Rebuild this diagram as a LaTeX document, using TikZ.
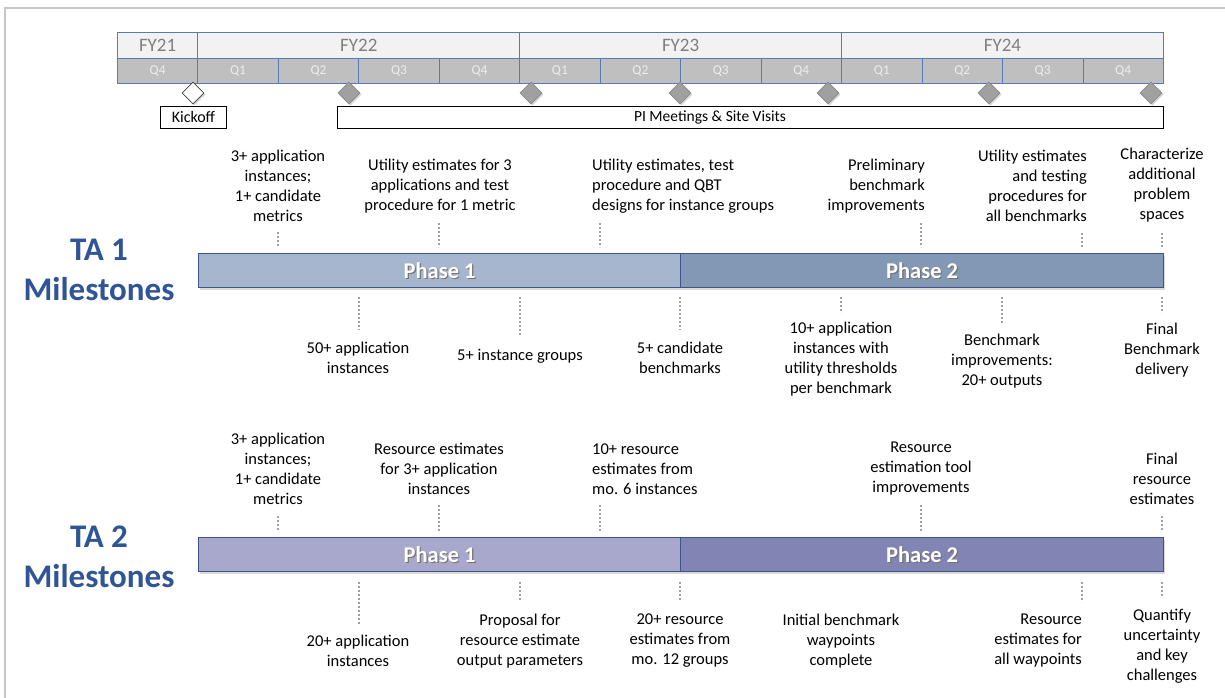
\documentclass[tikz,border=0pt]{standalone}
\usepackage{fontspec}
\setmainfont{Carlito}
\usetikzlibrary{shapes.geometric,shadows}
\definecolor{hdrline}{HTML}{5B7BB0}
\definecolor{fyfill}{HTML}{F2F2F2}
\definecolor{qfill}{HTML}{BFBFBF}
\definecolor{fytext}{HTML}{7F7F7F}
\definecolor{qtext}{HTML}{EDEDED}
\definecolor{dia}{HTML}{A0A0A0}
\definecolor{diaedge}{HTML}{8A8A8A}
\definecolor{taone}{HTML}{A6B6CE}
\definecolor{tatwo}{HTML}{8398B5}
\definecolor{tbone}{HTML}{A8A8CC}
\definecolor{tbtwo}{HTML}{8284B3}
\definecolor{barline}{HTML}{3C5584}
\definecolor{talbl}{HTML}{2F5597}
\definecolor{dotc}{HTML}{A0A0A0}
\definecolor{framec}{HTML}{C6C6C6}
\begin{document}
\begin{tikzpicture}[x=1pt,y=-1pt,
  cell/.style={draw=hdrline, line width=0.8pt, inner sep=0pt, anchor=north west},
  fycell/.style={cell, fill=fyfill, minimum height=26pt, font=\fontsize{19}{21}\selectfont, text=fytext},
  qcell/.style={cell, fill=qfill, minimum height=25pt, minimum width=80.46pt, font=\fontsize{13.5}{15}\selectfont, text=qtext},
  milestone/.style={diamond, minimum width=22pt, minimum height=22pt, inner sep=0pt, fill=dia, draw=diaedge, line width=0.6pt,
     drop shadow={opacity=0.35, shadow xshift=1.5pt, shadow yshift=-1.5pt}},
  kickdia/.style={milestone, fill=white, draw=black!75},
  evbox/.style={draw=black, line width=0.8pt, inner sep=0pt, anchor=north west, minimum height=22pt},
  evtext/.style={inner sep=0pt, font=\fontsize{16}{18}\selectfont},
  bar/.style={draw=barline, line width=1.2pt, minimum height=34pt, inner sep=0pt, anchor=north west,
     drop shadow={opacity=0.3, shadow xshift=1.5pt, shadow yshift=-2pt}},
  phtext/.style={font=\fontsize{22.5}{24}\selectfont\bfseries, text=white, inner sep=0pt},
  phshadow/.style={font=\fontsize{22.5}{24}\selectfont\bfseries, text=black!55, inner sep=0pt},
  talabel/.style={font=\fontsize{33}{40}\selectfont\bfseries, text=talbl, align=center, inner sep=0pt},
  ms/.style={font=\fontsize{16.5}{20}\selectfont, align=center, inner sep=0pt},
  msl/.style={ms, align=left, anchor=west},
  msr/.style={ms, align=right, anchor=east},
  dotline/.style={draw=dotc, line width=2.2pt, dash pattern=on 1.8pt off 2.2pt}
]
\useasboundingbox (0,0) rectangle (1225,698);
% frame
\coordinate (fr2) at (1225,8);
\coordinate (fr3) at (5,698);
\draw[framec, line width=2pt] (fr3) -- (5,8) -- (fr2);

% header FY row
\node[fycell, minimum width=80.46pt] (fy21) at (117,32) {FY21};
\node[fycell, minimum width=321.85pt] (fy22) at (197.46,32) {FY22};
\node[fycell, minimum width=321.85pt] (fy23) at (519.31,32) {FY23};
\node[fycell, minimum width=321.85pt] (fy24) at (841.15,32) {FY24};
% Q row
\foreach \i/\q in {0/Q4,1/Q1,2/Q2,3/Q3,4/Q4,5/Q1,6/Q2,7/Q3,8/Q4,9/Q1,10/Q2,11/Q3,12/Q4}{
  \node[qcell] (q\i) at ({117+\i*80.46},58) {\q};
}

% milestones diamonds
\node[kickdia] (kd) at (193,93) {};
\node[milestone] (d1) at (349,93) {};
\node[milestone] (d2) at (531,93) {};
\node[milestone] (d3) at (680,93) {};
\node[milestone] (d4) at (828,93) {};
\node[milestone] (d5) at (989,93) {};
\node[milestone] (d6) at (1151,93) {};

% event boxes
\node[evbox, minimum width=66pt] (kick) at (160,106) {};
\node[evtext] (kickt) at (kick.center) {Kickoff};
\node[evbox, minimum width=826pt] (pim) at (337,106) {};
\node[evtext, font=\fontsize{15.5}{18}\selectfont] (pimt) at (710,117) {PI Meetings \& Site Visits};

% left labels
\node[talabel] (ta1) at (99,270) {TA 1\\Milestones};
\node[talabel] (ta2) at (99,557) {TA 2\\Milestones};

% TA1 bars
\node[bar, fill=taone, minimum width=482pt] (b1p1) at (198,253) {};
\node[bar, fill=tatwo, minimum width=483pt] (b1p2) at (680,253) {};
\node[phshadow] at ([shift={(1.2pt,-1.2pt)}]b1p1.center) {Phase 1};
\node[phtext] (b1p1t) at (b1p1.center) {Phase 1};
\node[phshadow] at ([shift={(1.2pt,-1.2pt)}]b1p2.center) {Phase 2};
\node[phtext] (b1p2t) at (b1p2.center) {Phase 2};

% TA2 bars
\node[bar, fill=tbone, minimum width=482pt] (b2p1) at (198,537) {};
\node[bar, fill=tbtwo, minimum width=483pt] (b2p2) at (680,537) {};
\node[phshadow] at ([shift={(1.2pt,-1.2pt)}]b2p1.center) {Phase 1};
\node[phtext] (b2p1t) at (b2p1.center) {Phase 1};
\node[phshadow] at ([shift={(1.2pt,-1.2pt)}]b2p2.center) {Phase 2};
\node[phtext] (b2p2t) at (b2p2.center) {Phase 2};

% TA1 texts above
\node[ms] (t1a1) at (278,186) {3+ application\\instances;\\1+ candidate\\metrics};
\node[ms] (t1a2) at (440,186) {Utility estimates for 3\\applications and test\\procedure for 1 metric};
\node[msl] (t1a3) at (592,186) {Utility estimates, test\\procedure and QBT\\designs for instance groups};
\node[msr] (t1a4) at (925,186) {Preliminary\\benchmark\\improvements};
\node[msr] (t1a5) at (1087,186) {Utility estimates\\and testing\\procedures for\\all benchmarks};
\node[ms] (t1a6) at (1162,185) {Characterize\\additional\\problem\\spaces};
% TA1 texts below
\node[ms] (t1b1) at (358,358) {50+ application\\instances};
\node[ms] (t1b2) at (520,356) {5+ instance groups};
\node[ms] (t1b3) at (680,358) {5+ candidate\\benchmarks};
\node[ms] (t1b4) at (841,359) {10+ application\\instances with\\utility thresholds\\per benchmark};
\node[ms] (t1b5) at (1002,361) {Benchmark\\improvements:\\20+ outputs};
\node[ms] (t1b6) at (1162,350) {Final\\Benchmark\\delivery};
% TA2 texts above
\node[ms] (t2a1) at (278,469) {3+ application\\instances;\\1+ candidate\\metrics};
\node[ms] (t2a2) at (439,469) {Resource estimates\\for 3+ application\\instances};
\node[msl] (t2a3) at (592,469) {10+ resource\\estimates from\\mo. 6 instances};
\node[ms] (t2a4) at (921,469) {Resource\\estimation tool\\improvements};
\node[ms] (t2a5) at (1162,479) {Final\\resource\\estimates};
% TA2 texts below
\node[ms] (t2b1) at (358,651) {20+ application\\instances};
\node[ms] (t2b2) at (520,641) {Proposal for\\resource estimate\\output parameters};
\node[ms] (t2b3) at (680,641) {20+ resource\\estimates from\\mo. 12 groups};
\node[ms] (t2b4) at (841,641) {Initial benchmark\\waypoints\\complete};
\node[msr] (t2b5) at (1082,641) {Resource\\estimates for\\all waypoints};
\node[ms] (t2b6) at (1162,646) {Quantify\\uncertainty\\and key\\challenges};

% dotted leaders TA1 above
\foreach \n/\x/\ya in {a/278/232, b/439/223, c/600/223, d/921/223, e/1082/233, f/1162/233}{
  \coordinate (u1\n s) at (\x,\ya);
  \coordinate (u1\n e) at (\x,247);
  \draw[dotline] (u1\n s) -- (u1\n e);
}
% TA1 below
\foreach \n/\x/\yb in {a/359/330, b/520/336, c/680/330, d/841/313, e/1002/323, f/1162/313}{
  \coordinate (l1\n s) at (\x,297);
  \coordinate (l1\n e) at (\x,\yb);
  \draw[dotline] (l1\n s) -- (l1\n e);
}
% TA2 above
\foreach \n/\x/\ya in {a/278/516, b/439/505, c/600/505, d/921/505, f/1162/516}{
  \coordinate (u2\n s) at (\x,\ya);
  \coordinate (u2\n e) at (\x,531);
  \draw[dotline] (u2\n s) -- (u2\n e);
}
% TA2 below
\foreach \n/\x/\yb in {a/359/624, b/520/602, c/680/602, e/1082/602, f/1162/597}{
  \coordinate (l2\n s) at (\x,582);
  \coordinate (l2\n e) at (\x,\yb);
  \draw[dotline] (l2\n s) -- (l2\n e);
}
\end{tikzpicture}
\end{document}
